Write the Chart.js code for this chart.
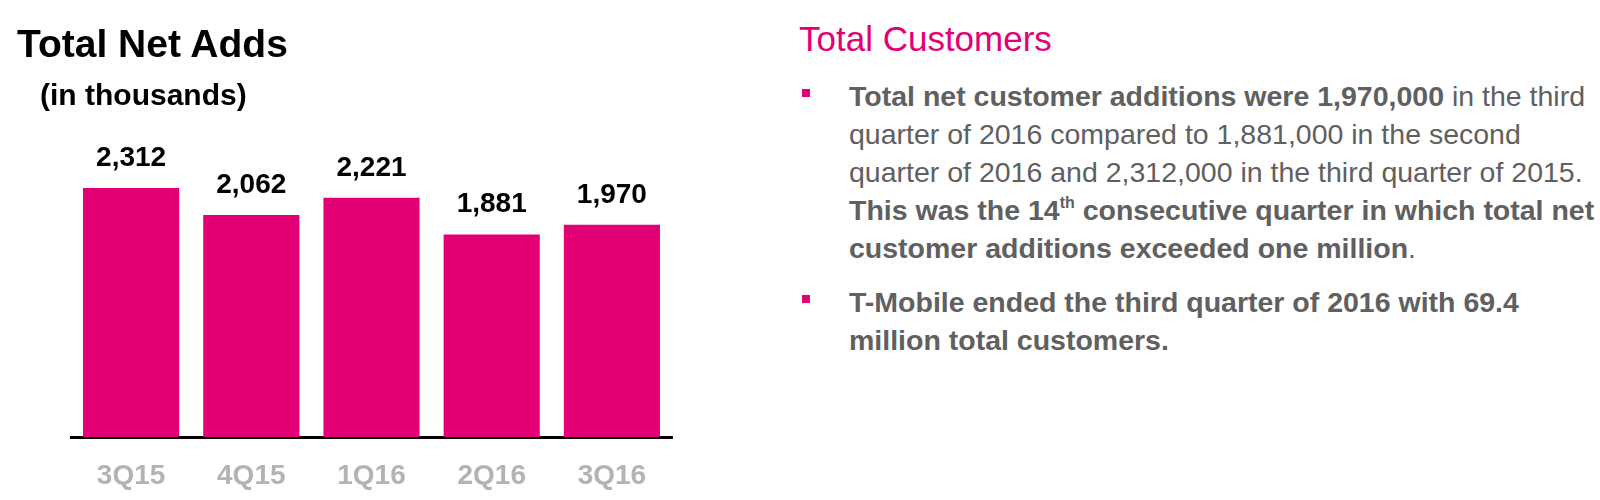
<!DOCTYPE html>
<html>
<head>
<meta charset="utf-8">
<script src="https://cdn.jsdelivr.net/npm/chart.js@4.4.1/dist/chart.umd.min.js"></script>
<style>
  html, body { margin: 0; padding: 0; background: #fff; }
  body { width: 1600px; height: 500px; position: relative; overflow: hidden; font-family: "Liberation Sans", Arial, sans-serif; }
  #chartBox { position: absolute; left: 0; top: 0; width: 700px; height: 500px; }
  .abs { position: absolute; white-space: nowrap; }
  #t1 { left: 17px; top: 24px; font-size: 39px; line-height: 39px; font-weight: bold; color: #000; }
  #t2 { left: 40px; top: 80px; font-size: 30px; line-height: 30px; font-weight: bold; color: #000; }
  #rt { left: 799px; top: 21px; font-size: 35px; line-height: 35px; color: #e20074; }
  #list { left: 849px; top: 77px; font-size: 28.5px; line-height: 38px; color: #606060; }
  .item { position: relative; }
  .item + .item { margin-top: 16px; }
  .item::before { content: ""; position: absolute; left: -47px; top: 12px; width: 8px; height: 8px; background: #e20074; }
  b { font-weight: bold; }
  sup { font-size: 16px; line-height: 0; vertical-align: 12px; font-weight: bold; }
</style>
</head>
<body>
<div id="chartBox"><canvas id="c"></canvas></div>
<div class="abs" id="t1">Total Net Adds</div>
<div class="abs" id="t2">(in thousands)</div>
<div class="abs" id="rt">Total Customers</div>
<div class="abs" id="list">
  <div class="item"><b>Total net customer additions were 1,970,000</b> in the third<br>quarter of 2016 compared to 1,881,000 in the second<br>quarter of 2016 and 2,312,000 in the third quarter of 2015.<br><b>This was the 14<sup>th</sup> consecutive quarter in which total net<br>customer additions exceeded one million</b>.</div>
  <div class="item"><b>T-Mobile ended the third quarter of 2016 with 69.4<br>million total customers.</b></div>
</div>
<script>
const categories = ["3Q15", "4Q15", "1Q16", "2Q16", "3Q16"];
const netAdds = [2312, 2062, 2221, 1881, 1970];
const valueLabels = ["2,312", "2,062", "2,221", "1,881", "1,970"];

const barLabelPlugin = {
  id: 'barLabels',
  afterDatasetsDraw(chart) {
    const ctx = chart.ctx;
    const meta = chart.getDatasetMeta(0);
    ctx.save();
    ctx.font = 'bold 28px "Liberation Sans", Arial, sans-serif';
    ctx.fillStyle = '#000';
    ctx.textAlign = 'center';
    ctx.textBaseline = 'alphabetic';
    meta.data.forEach((bar, i) => {
      ctx.fillText(valueLabels[i], bar.x, bar.y - 22);
    });
    ctx.restore();
  }
};

new Chart(document.getElementById('c'), {
  type: 'bar',
  data: {
    labels: categories,
    datasets: [{
      data: netAdds,
      backgroundColor: '#e20074',
      borderWidth: 0,
      barPercentage: 0.8,
      categoryPercentage: 1.0
    }]
  },
  options: {
    responsive: true,
    maintainAspectRatio: false,
    animation: false,
    layout: { padding: { left: 71, right: 28, top: 130, bottom: 0 } },
    plugins: { legend: { display: false }, tooltip: { enabled: false } },
    scales: {
      x: {
        afterFit: (scale) => { scale.height = 63; },
        grid: { display: false, drawTicks: false },
        border: { display: true, color: '#000', width: 3 },
        ticks: {
          color: '#b3b3b3',
          padding: 22,
          font: { family: '"Liberation Sans", Arial, sans-serif', size: 28, weight: 'bold' }
        }
      },
      y: { display: false, min: 0, max: 2850 }
    }
  },
  plugins: [barLabelPlugin]
});
</script>
</body>
</html>
